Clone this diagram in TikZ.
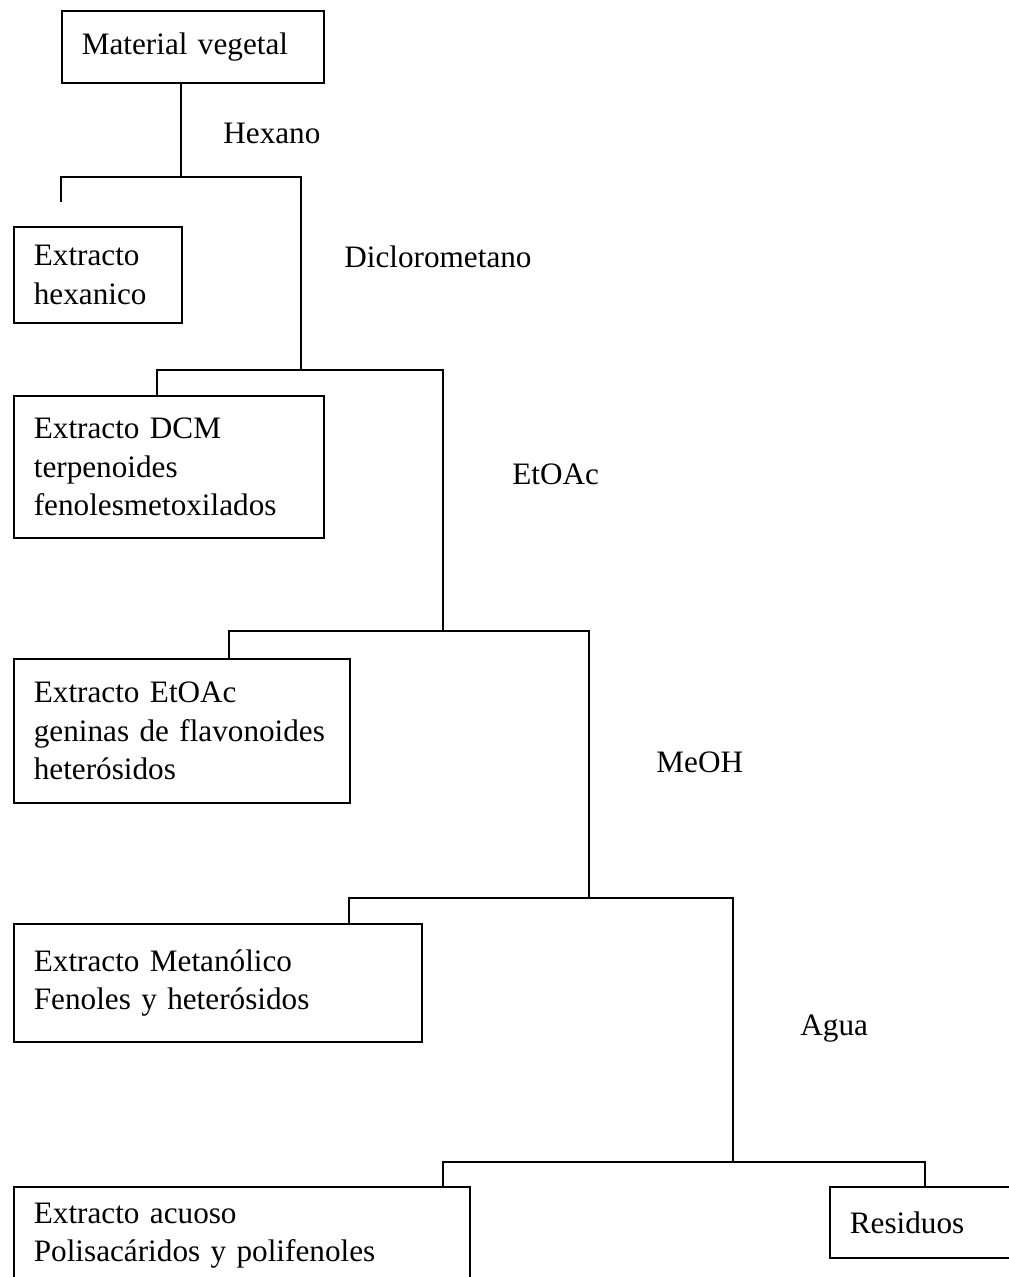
\documentclass[tikz,border=0pt]{standalone}
\usepackage{fontspec}
\setmainfont{Liberation Serif}

\begin{document}
\begin{tikzpicture}[x=0.5pt,y=-0.5pt,
  extbox/.style={draw, line width=0.85pt, anchor=north west, inner xsep=10pt,
    inner ysep=0pt, align=left, font=\fontsize{15.6}{19.25}\selectfont},
  solvent/.style={anchor=base west, inner sep=0pt,
    font=\fontsize{15.6}{19.25}\selectfont}]
  \useasboundingbox (0,0) rectangle (1008,1277);

  \node [extbox, text width=111pt, minimum height=36pt] (mat) at (61,10) {Material vegetal};
  \node [extbox, text width=64pt, minimum height=48pt] (hex) at (13,226) {Extracto\\hexanico};
  \node [extbox, text width=135pt, minimum height=71pt] (dcm) at (13,395)
        {Extracto DCM\\terpenoides\\fenolesmetoxilados};
  \node [extbox, text width=148pt, minimum height=72pt] (eto) at (13,658)
        {Extracto EtOAc\\geninas de flavonoides\\heterósidos};
  \node [extbox, text width=184pt, minimum height=59pt] (met) at (13,923)
        {Extracto Metanólico\\Fenoles y heterósidos};
  \node [extbox, text width=208pt, minimum height=49pt] (acu) at (13,1186)
        {Extracto acuoso\\Polisacáridos y polifenoles};
  \node [extbox, text width=71.5pt, minimum height=35.5pt] (res) at (829,1186) {Residuos};

  \node [solvent] (hexano) at (223,144) {Hexano};
  \node [solvent] (diclo) at (344,268) {Diclorometano};
  \node [solvent] (etoac) at (512,485) {EtOAc};
  \node [solvent] (meoh) at (656,772) {MeOH};
  \node [solvent] (agua) at (800,1035) {Agua};

  \path (181,177) coordinate (j0);
  \path (61,202) coordinate (hexend);
  \path (61,177) coordinate (l1);   \path (301,177) coordinate (r1);
  \path (157,370) coordinate (l2);  \path (443,370) coordinate (r2);
  \path (229,631) coordinate (l3);  \path (589,631) coordinate (r3);
  \path (349,898) coordinate (l4);  \path (733,898) coordinate (r4);
  \path (443,1162) coordinate (l5); \path (925,1162) coordinate (r5);

  \begin{scope}[line width=0.85pt]
    \draw (mat.south -| j0) -- (j0);
    \draw (hexend) -- (l1) -- (r1) -- (r1 |- l2);
    \draw (dcm.north -| l2) -- (l2) -- (r2) -- (r2 |- l3);
    \draw (eto.north -| l3) -- (l3) -- (r3) -- (r3 |- l4);
    \draw (met.north -| l4) -- (l4) -- (r4) -- (r4 |- l5);
    \draw (acu.north -| l5) -- (l5) -- (r5) -- (res.north -| r5);
  \end{scope}
\end{tikzpicture}
\end{document}
